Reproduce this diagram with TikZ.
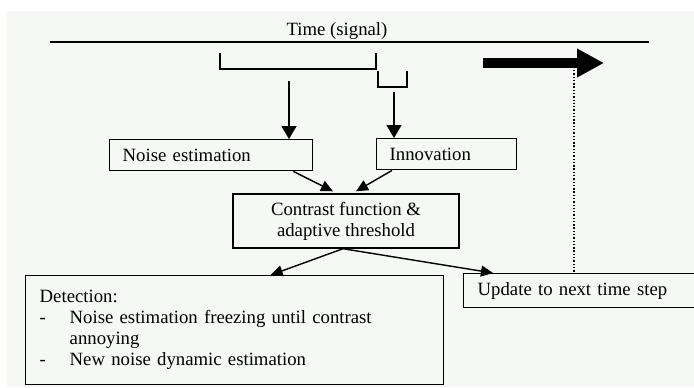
\documentclass[tikz,border=0pt]{standalone}
\usepackage{fontspec}
\setmainfont{Liberation Serif}
\usetikzlibrary{arrows.meta,calc}
\definecolor{paper}{RGB}{245,248,245}
\begin{document}
\begin{tikzpicture}[x=0.03cm,y=-0.03cm,
  every node/.style={font=\fontsize{16pt}{17.9pt}\selectfont},
  box/.style={draw,line width=1.2pt,inner xsep=0.39cm,inner ysep=0pt,align=left,anchor=north west},
  conn/.style={line width=1.2pt,-{Triangle[length=0.36cm,width=0.33cm]}},
  drop/.style={line width=1.4pt,-{Triangle[length=0.39cm,width=0.45cm]}}]
\useasboundingbox (0,0) rectangle (694,387);
\clip (0,0) rectangle (694,387);
\fill[white] (0,0) rectangle (694,387);
\fill[paper] (7,11) rectangle (694,387);

% time axis and windows
\draw[line width=1.3pt] (50,42) -- (649,42);
\node[anchor=base] (time) at (337,35) {Time (signal)};
\draw[line width=1.1pt] (220,53) |- (376,69) -- (376,53);
\draw[line width=1.1pt] (378,71) |- (407,87) -- (407,71);
\coordinate (win1) at (289,81);
\coordinate (win2) at (394,92);

% moving forward
\coordinate (flowtail) at (483,63);
\coordinate (flowhead) at (604,63);
\draw[line width=7.7pt,-{Triangle[length=0.81cm,width=0.81cm]}] (flowtail) -- (flowhead);
\coordinate (stepmark) at (574,70);

% boxes
\node[box,text width=5.31cm,minimum height=0.93cm] (noise) at (109,139) {Noise estimation};
\node[box,text width=3.42cm,minimum height=0.93cm] (innov) at (376,138) {Innovation};
\node[draw,line width=1.2pt,align=center,minimum width=6.78cm,minimum height=1.62cm] (contrast) at (346,221)
  {Contrast function \&\\adaptive threshold};
\node[box,inner xsep=0.42cm,text width=11.7cm,minimum height=3.27cm] (detect) at (25,275)
  {\begin{tabular}{@{}p{0.9cm}@{}l@{}}
   \multicolumn{2}{@{}l@{}}{Detection:}\\
   - & Noise estimation freezing until contrast\\
     & annoying\\
   - & New noise dynamic estimation
   \end{tabular}};
\node[box,inner xsep=0.42cm,text width=7cm,minimum height=1.02cm] (update) at (463,273) {Update to next time step};

% connectors
\draw[drop] (win1) -- (noise.north -| win1);
\draw[drop] (win2) -- (innov.north -| win2);
\draw[conn] ($(noise.south east)+(-20,0)$) -- ($(contrast.north)+(-13,-2)$);
\draw[conn] ($(innov.south west)+(16,0)$) -- ($(contrast.north)+(10,-2)$);
\draw[conn] ($(contrast.south)+(-3,0)$) -- ($(detect.north)+(36,0)$);
\draw[conn] ($(contrast.south)+(-3,0)$) -- ($(update.north west)+(30,0)$);
\draw[line width=1pt,dash pattern=on 1.2pt off 1.6pt] (stepmark) -- (update.north -| stepmark);
\end{tikzpicture}
\end{document}
